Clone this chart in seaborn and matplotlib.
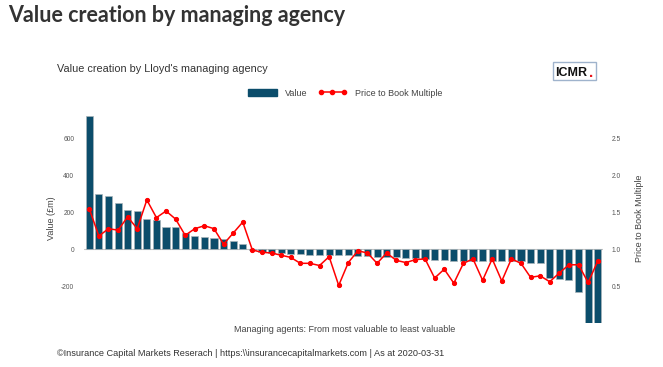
import numpy as np
import pandas as pd
import matplotlib
matplotlib.use("Agg")
import matplotlib.pyplot as plt
import seaborn as sns
from matplotlib.patches import Patch, Rectangle
from matplotlib.lines import Line2D

# =======================
# DATA
# =======================
value_gbpm = [725, 302, 288, 250, 212, 210, 165, 157, 119, 119,
              88, 74, 68, 61, 56, 43, 29, -3, -14, -18,
              -20, -24, -24, -31, -31, -33, -33, -33, -34, -36,
              -42, -42, -43, -45, -49, -51, -58, -60, -63, -63,
              -63, -63, -63, -63, -63, -63, -74, -74, -156, -161,
              -168, -234, -400, -400]
price_to_book = [1.55, 1.18, 1.28, 1.26, 1.44, 1.28, 1.67, 1.43, 1.52, 1.41,
                 1.19, 1.28, 1.32, 1.28, 1.07, 1.22, 1.37, 0.99, 0.96, 0.95,
                 0.92, 0.89, 0.81, 0.81, 0.78, 0.90, 0.51, 0.82, 0.98, 0.95,
                 0.81, 0.95, 0.85, 0.82, 0.86, 0.87, 0.61, 0.73, 0.54, 0.81,
                 0.87, 0.58, 0.87, 0.57, 0.87, 0.81, 0.62, 0.64, 0.56, 0.68,
                 0.79, 0.79, 0.55, 0.84]
agent_rank = list(range(len(value_gbpm)))
value_ticks = [-200, 0, 200, 400, 600]
ptb_ticks = [0.5, 1.0, 1.5, 2.0, 2.5]

df = pd.DataFrame({"rank": agent_rank, "value": value_gbpm, "ptb": price_to_book})

bar_color = "#0b4d6b"
line_color = "#ff0000"

sns.set_style("white")
plt.rcParams["font.family"] = ["Liberation Sans", "DejaVu Sans"]

fig = plt.figure(figsize=(6.63, 3.67), dpi=100)
W, H = 663, 367
ax = fig.add_axes([84 / W, 1 - 323 / H, (603 - 84) / W, (323 - 113) / H])

# bars
sns.barplot(data=df, x="rank", y="value", color=bar_color, saturation=1,
            width=0.74, edgecolor="#a9b4b9", linewidth=0.5, ax=ax, zorder=2)
ax.axhline(0, color="#c4c4c4", lw=0.8, zorder=1)
ax.set_xlim(-0.55, len(value_gbpm) - 0.45)
ax.set_ylim(-400, 740)
ax.set_xticks([])
ax.set_xlabel("")
ax.set_yticks(value_ticks)
ax.set_yticklabels([str(t) for t in value_ticks])
ax.tick_params(axis="y", length=0, pad=7, labelsize=4.8, labelcolor="#555555")
ax.set_ylabel("Value (£m)", fontsize=6.5, color="#444444", labelpad=4)
sns.despine(ax=ax, left=True, bottom=True)

# price to book line on secondary axis
ax2 = ax.twinx()
sns.lineplot(data=df, x="rank", y="ptb", ax=ax2, color=line_color, marker="o",
             markersize=3.0, markeredgecolor=line_color, linewidth=1.1, zorder=3)
ax2.set_ylim(0, 2.85)
ax2.set_yticks(ptb_ticks)
ax2.set_yticklabels([f"{t:.1f}" for t in ptb_ticks])
ax2.tick_params(axis="y", length=0, pad=6.5, labelsize=4.8, labelcolor="#555555")
ax2.set_ylabel("Price to Book Multiple", fontsize=6.5, color="#444444", labelpad=10)
ax2.set_xlabel("")
for s in ax2.spines.values():
    s.set_visible(False)

# legend
handles = [Patch(facecolor=bar_color, edgecolor=bar_color),
           Line2D([0], [0], color=line_color, marker="o", markersize=3.0, lw=1.1)]
fig.legend(handles, ["Value", "Price to Book Multiple"], loc="center",
           bbox_to_anchor=(345 / W, 1 - 93 / H), ncol=2, frameon=False,
           fontsize=6.5, handlelength=3.2, handleheight=0.9, numpoints=3,
           columnspacing=1.2, handletextpad=0.9, labelcolor="#444444")

# texts
fig.text(8 / W, 1 - 5.5 / H, "Value creation by managing agency", fontsize=15.5,
         fontweight="bold", family=["Lato", "DejaVu Sans"], color="#333333",
         va="top", ha="left")
fig.text(57 / W, 1 - 69 / H, "Value creation by Lloyd's managing agency",
         fontsize=7.8, color="#333333", va="center", ha="left")
fig.text(345 / W, 1 - 330 / H, "Managing agents: From most valuable to least valuable",
         fontsize=6.5, color="#444444", va="center", ha="center")
fig.text(57 / W, 1 - 353 / H,
         "©Insurance Capital Markets Reserach | https:\\\\insurancecapitalmarkets.com | As at 2020-03-31",
         fontsize=6.6, color="#333333", va="center", ha="left")

# ICMR logo box
fig.add_artist(Rectangle((552.5 / W, 1 - 80 / H), 43 / W, 18 / H, transform=fig.transFigure,
                         fill=False, edgecolor="#9fb3cc", lw=1.0))
fig.text(555.5 / W, 1 - 72.5 / H, "ICMR", fontsize=9.0, fontweight="bold",
         color="#111111", va="center", ha="left")
fig.text(588.5 / W, 1 - 73 / H, ".", fontsize=11, fontweight="bold",
         color="#e8141c", va="center", ha="left")

fig.savefig("out.png", dpi=100)
